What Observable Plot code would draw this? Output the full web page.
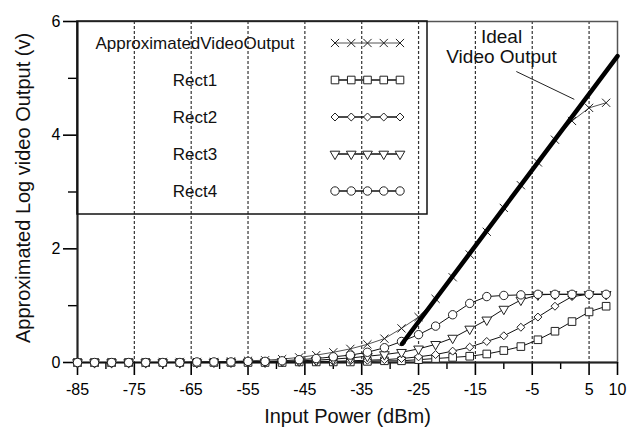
<!DOCTYPE html>
<html><head><meta charset="utf-8">
<script src="https://cdn.jsdelivr.net/npm/d3@7"></script>
<script src="https://cdn.jsdelivr.net/npm/@observablehq/plot@0.6"></script>
<style>
body{margin:0;background:#fff;font-family:"Liberation Sans",Arial,sans-serif;}
</style></head><body><div id="chart"></div>
<script>
// ---- data ----
const inputPower = [-85,-82,-79,-76,-73,-70,-67,-64,-61,-58,-55,-52,-49,-46,-43,-40,-37,-34,-31,-28,-25,-22,-19,-16,-13,-10,-7,-4,-1,2,5,8];
const approxVideo = [0,0,0,0,0,0.01,0.01,0.01,0.01,0.02,0.03,0.04,0.06,0.09,0.13,0.18,0.24,0.32,0.42,0.6,0.8,1.12,1.5,1.9,2.3,2.72,3.12,3.52,3.92,4.25,4.48,4.57];
const rect1 = [0,0,0,0,0,0,0,0,0,0,0,0,0,0.01,0.01,0.01,0.01,0.02,0.03,0.03,0.05,0.07,0.09,0.11,0.15,0.21,0.28,0.4,0.55,0.72,0.89,0.99];
const rect2 = [0,0,0,0,0,0,0,0,0,0,0.01,0.01,0.01,0.01,0.02,0.02,0.03,0.04,0.05,0.07,0.1,0.14,0.2,0.27,0.37,0.47,0.62,0.8,0.99,1.16,1.2,1.2];
const rect3 = [0,0,0,0,0,0,0,0,0.01,0.01,0.01,0.01,0.02,0.03,0.04,0.06,0.08,0.11,0.14,0.18,0.24,0.32,0.43,0.59,0.75,0.94,1.1,1.19,1.2,1.2,1.2,1.2];
const rect4 = [0,0,0,0,0,0,0,0.01,0.01,0.01,0.02,0.02,0.03,0.05,0.07,0.1,0.13,0.18,0.26,0.37,0.49,0.64,0.84,1.04,1.16,1.18,1.19,1.2,1.2,1.2,1.2,1.2];
const idealX = [-27.9, 10];
const idealY = [0.33, 5.39];
const seriesNames = ["ApproximatedVideoOutput","Rect1","Rect2","Rect3","Rect4"];
const xTicks = [-85,-75,-65,-55,-45,-35,-25,-15,-5,5,10];
const xMinorTicks = [-80,-70,-60,-50,-40,-30,-20,-10,0];
const gridX = [-75,-65,-55,-45,-35,-25,-15,-5,5];
const yTicks = [0,2,4,6];
const yMinorTicks = [1,3,5];
const annotationText = ["Ideal\nVideo Output"];
const annotationX = [-10.4];
const annotationY = [5.55];
const leaderX = [-7.8, 2.4];
const leaderY = [5.12, 4.63];
const xLabel = "Input Power (dBm)";
const yLabel = "Approximated Log video Output (v)";

// ---- build ----
const triangleDown = {
  draw(context, size) {
    const s = Math.sqrt(4 * size / Math.sqrt(3));
    const h = s * Math.sqrt(3) / 2;
    context.moveTo(-s / 2, -h / 3);
    context.lineTo(s / 2, -h / 3);
    context.lineTo(0, 2 * h / 3);
    context.closePath();
  }
};
const seriesValues = [approxVideo, rect1, rect2, rect3, rect4];
const symbols = ["times", "square", "diamond2", triangleDown, "circle"];
const d3Symbols = [d3.symbolTimes, d3.symbolSquare, d3.symbolDiamond2, triangleDown, d3.symbolCircle];
const radii = [3.8, 4.3, 3.6, 3.6, 4.2];
const lineColors = ["#555", "#111", "#111", "#111", "#111"];
const rows = seriesNames.map((name, i) => inputPower.map((x, j) => ({x, y: seriesValues[i][j], name})));
const ideal = idealX.map((x, i) => ({x, y: idealY[i]}));
const fmt = d => String(d);

const seriesMarks = rows.flatMap((d, i) => [
  Plot.line(d, {x: "x", y: "y", stroke: lineColors[i], strokeWidth: 1}),
  Plot.dot(d, {x: "x", y: "y", symbol: () => symbols[i], r: radii[i], stroke: "#222", fill: i === 0 ? "none" : "white", strokeWidth: 1})
]);

const plot = Plot.plot({
  width: 627, height: 433,
  marginLeft: 77, marginRight: 10, marginTop: 21, marginBottom: 71,
  style: {fontFamily: "'Liberation Sans', Arial, sans-serif", fontSize: "16px", background: "white", color: "#000"},
  x: {domain: [-85, 10]},
  y: {domain: [0, 6]},
  marks: [
    Plot.ruleX(gridX, {stroke: "#333", strokeDasharray: "3,2", strokeWidth: 1.2}),
    Plot.frame({stroke: "#555", strokeWidth: 1.5}),
    Plot.axisX(xTicks, {tickSize: 13, tickPadding: 8, fontSize: 16, strokeWidth: 1.6, tickFormat: fmt, label: null}),
    Plot.axisX(xMinorTicks, {tickSize: 7, tickFormat: () => "", strokeWidth: 1.4, label: null}),
    Plot.axisY(yTicks, {tickSize: 14, tickPadding: 3, fontSize: 16, strokeWidth: 1.6, tickFormat: fmt, label: null}),
    Plot.axisY(yMinorTicks, {tickSize: 9, tickFormat: () => "", strokeWidth: 1.4, label: null}),
    Plot.ruleY([0], {stroke: "#222", strokeWidth: 2}),
    Plot.ruleX([-85], {stroke: "#222", strokeWidth: 2}),
    ...seriesMarks,
    Plot.line(ideal, {x: "x", y: "y", stroke: "#000", strokeWidth: 4.5}),
    Plot.link([0], {x1: () => leaderX[0], y1: () => leaderY[0], x2: () => leaderX[1], y2: () => leaderY[1], stroke: "#222", strokeWidth: 1}),
    Plot.text(annotationText, {x: () => annotationX[0], y: () => annotationY[0], text: d => d, fontSize: 19, lineHeight: 1.05, textAnchor: "middle", fill: "#111"}),
    Plot.text([xLabel], {frameAnchor: "bottom", dy: 60, fontSize: 20, fill: "#111"}),
    Plot.text([yLabel], {frameAnchor: "left", textAnchor: "middle", rotate: -90, dx: -54, dy: -4, fontSize: 20, fill: "#111"})
  ]
});
document.getElementById("chart").append(plot);

// ---- legend (layout) ----
const svgSel = d3.select(plot);
const sxScale = plot.scale("x"), syScale = plot.scale("y");
const legLeft = sxScale.apply(-85), legTop = syScale.apply(6);
const lg = svgSel.append("g");
lg.append("rect").attr("x", legLeft).attr("y", legTop).attr("width", 350).attr("height", 193)
  .attr("fill", "none").attr("stroke", "#111").attr("stroke-width", 1.5);
const rowY = [43, 80, 117, 154, 191];
const sampleX = [335, 351.25, 367.5, 383.75, 400];
seriesNames.forEach((name, i) => {
  const y = rowY[i];
  lg.append("text").attr("x", 195).attr("y", y).attr("dy", "0.35em").attr("text-anchor", "middle")
    .attr("font-size", 17).attr("fill", "#111").text(name);
  lg.append("line").attr("x1", sampleX[0]).attr("x2", sampleX[4]).attr("y1", y).attr("y2", y)
    .attr("stroke", i === 0 ? "#555" : "#111").attr("stroke-width", i === 0 ? 1 : 1.5);
  const path = d3.symbol(d3Symbols[i], radii[i] * radii[i] * Math.PI)();
  sampleX.forEach(x => {
    lg.append("path").attr("d", path).attr("transform", `translate(${x},${y})`)
      .attr("fill", i === 0 ? "none" : "white").attr("stroke", "#222").attr("stroke-width", 1);
  });
});
</script></body></html>
